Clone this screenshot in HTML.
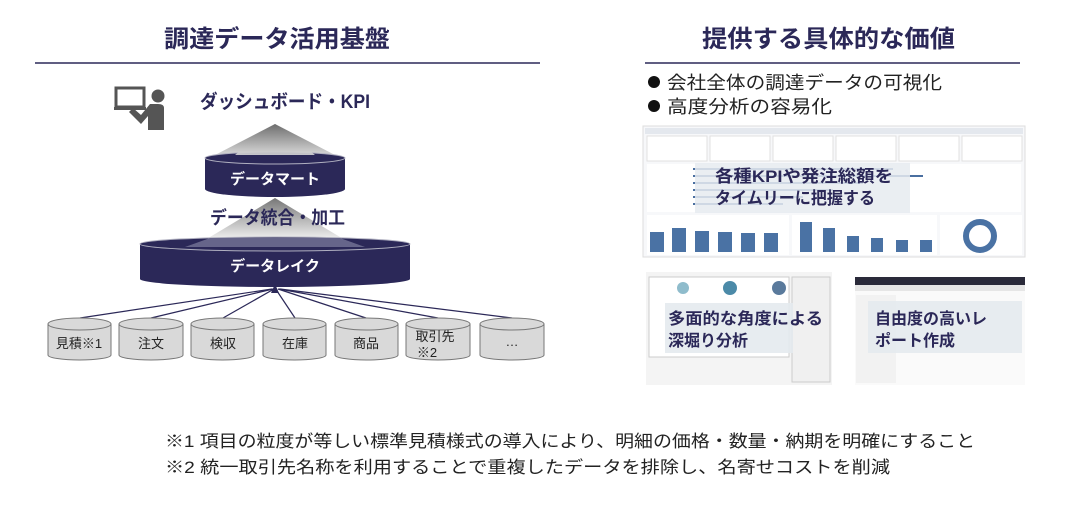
<!DOCTYPE html>
<html><head><meta charset="utf-8"><style>
body{margin:0;background:#fff;}
svg text{font-family:"Liberation Sans","Noto Sans CJK JP",sans-serif;}
</style></head><body>
<svg width="1075" height="527" viewBox="0 0 1075 527" xmlns="http://www.w3.org/2000/svg">
<defs>
<linearGradient id="tri" x1="0" y1="0" x2="0" y2="1"><stop offset="0" stop-color="#6e6e6e"/><stop offset="1" stop-color="#d8d8d8"/></linearGradient>
<linearGradient id="tri2" x1="0" y1="0" x2="0" y2="1"><stop offset="0" stop-color="#777"/><stop offset="1" stop-color="#f2f2f2"/></linearGradient>
</defs>
<text x="164" y="47" font-size="24" font-weight="bold" fill="#2b2858" textLength="226" lengthAdjust="spacingAndGlyphs">調達データ活用基盤</text>
<line x1="35" y1="63" x2="540" y2="63" stroke="#2b2858" stroke-width="1.5"/>
<text x="702" y="47" font-size="24" font-weight="bold" fill="#2b2858" textLength="253" lengthAdjust="spacingAndGlyphs">提供する具体的な価値</text>
<line x1="645" y1="63" x2="1020" y2="63" stroke="#2b2858" stroke-width="1.5"/>

<!-- icon -->
<rect x="116" y="88" width="28" height="19" fill="none" stroke="#555" stroke-width="3"/>
<rect x="114" y="107" width="32" height="3" fill="#555"/>
<circle cx="158" cy="96" r="6.5" fill="#555"/>
<path d="M129 112 L141 124 L148 116 L148 130 L164 130 L164 108 Q164 104 158 104 L150 104 L141 115 L133 108 Z" fill="#555"/>
<text x="200" y="108" font-size="19" font-weight="bold" fill="#2b2858" textLength="170" lengthAdjust="spacingAndGlyphs">ダッシュボード・KPI</text>

<polygon points="275,124 215,155 335,155" fill="url(#tri)"/>
<path d="M205 158 L205 189 A70 8 0 0 0 345 189 L345 158 Z" fill="#2b2858"/>
<ellipse cx="275" cy="158" rx="70" ry="6" fill="#2b2858" stroke="#b0b0c0" stroke-width="1"/>
<polygon points="275,124 235,155 315,155" fill="url(#tri)" opacity="0.9"/>
<text x="275" y="184" font-size="15" font-weight="bold" fill="#fff" text-anchor="middle">データマート</text>

<polygon points="275,198 205,240 345,240" fill="url(#tri2)"/>
<text x="210" y="224" font-size="18" font-weight="bold" fill="#2b2858" textLength="135" lengthAdjust="spacingAndGlyphs">データ統合・加工</text>
<path d="M140 244 L140 279 A135 8 0 0 0 410 279 L410 244 Z" fill="#2b2858"/>
<ellipse cx="275" cy="244" rx="135" ry="7" fill="#2b2858" stroke="#b0b0c0" stroke-width="1"/>
<polygon points="185,247 365,247 340,238 210,238" fill="#66658a"/>
<text x="275" y="271" font-size="15" font-weight="bold" fill="#fff" text-anchor="middle">データレイク</text>

<g stroke="#2b2858" stroke-width="1.2" fill="none">
<line x1="80" y1="318" x2="272" y2="289"/>
<line x1="151" y1="318" x2="273" y2="289"/>
<line x1="223" y1="318" x2="274" y2="289"/>
<line x1="295" y1="318" x2="277" y2="291"/>
<line x1="366" y1="318" x2="278" y2="289"/>
<line x1="438" y1="318" x2="279" y2="289"/>
<line x1="512" y1="318" x2="280" y2="289"/>
</g>
<polygon points="275,284 271,293 279,293" fill="#2b2858"/>

<g stroke="#777" stroke-width="1" fill="#d9d9d9">
<path d="M48 324 V355 A31.5 5 0 0 0 111 355 V324"/><ellipse cx="79.5" cy="324" rx="31.5" ry="6"/>
<path d="M119 324 V355 A32 5 0 0 0 183 355 V324"/><ellipse cx="151" cy="324" rx="32" ry="6"/>
<path d="M191 324 V355 A31.5 5 0 0 0 254 355 V324"/><ellipse cx="222.5" cy="324" rx="31.5" ry="6"/>
<path d="M263 324 V355 A31.5 5 0 0 0 326 355 V324"/><ellipse cx="294.5" cy="324" rx="31.5" ry="6"/>
<path d="M335 324 V355 A31.5 5 0 0 0 398 355 V324"/><ellipse cx="366.5" cy="324" rx="31.5" ry="6"/>
<path d="M406 324 V355 A32 5 0 0 0 470 355 V324"/><ellipse cx="438" cy="324" rx="32" ry="6"/>
<path d="M480 324 V355 A32 5 0 0 0 544 355 V324"/><ellipse cx="512" cy="324" rx="32" ry="6"/>
</g>
<g font-size="13" fill="#222" text-anchor="middle">
<text x="79" y="348">見積※1</text>
<text x="151" y="348">注文</text>
<text x="223" y="348">検収</text>
<text x="295" y="348">在庫</text>
<text x="366" y="348">商品</text>
<text x="435" y="341">取引先</text>
<text x="427" y="357">※2</text>
<text x="512" y="346">…</text>
</g>

<circle cx="654" cy="82" r="6" fill="#111"/>
<circle cx="654" cy="106" r="6" fill="#111"/>
<text x="667" y="89" font-size="18" fill="#222" textLength="275" lengthAdjust="spacingAndGlyphs">会社全体の調達データの可視化</text>
<text x="667" y="113" font-size="18" fill="#222" textLength="165" lengthAdjust="spacingAndGlyphs">高度分析の容易化</text>

<rect x="643" y="126" width="382" height="131" fill="#f7f8fa" stroke="#ddd"/>
<rect x="645" y="128" width="378" height="6" fill="#e4e8ee"/>
<g fill="#fff" stroke="#e0e0e0"><rect x="647" y="136" width="60" height="25"/><rect x="710" y="136" width="60" height="25"/><rect x="773" y="136" width="60" height="25"/><rect x="836" y="136" width="60" height="25"/><rect x="899" y="136" width="60" height="25"/><rect x="962" y="136" width="60" height="25"/></g>
<rect x="647" y="164" width="374" height="48" fill="#fff"/>
<g fill="#4a6fa0"><rect x="693" y="168" width="200" height="2"/><rect x="693" y="175" width="230" height="2"/><rect x="693" y="182" width="170" height="2"/><rect x="693" y="189" width="140" height="2"/><rect x="693" y="196" width="110" height="2"/><rect x="693" y="203" width="90" height="2"/></g>
<rect x="695" y="163" width="215" height="50" fill="#e6ebf0" opacity="0.85"/>
<text x="715" y="182" font-size="17" font-weight="bold" fill="#2b2858" textLength="178" lengthAdjust="spacingAndGlyphs">各種KPIや発注総額を</text>
<text x="715" y="204" font-size="17" font-weight="bold" fill="#2b2858" textLength="160" lengthAdjust="spacingAndGlyphs">タイムリーに把握する</text>
<rect x="647" y="215" width="142" height="40" fill="#fff"/><rect x="792" y="215" width="145" height="40" fill="#fff"/><rect x="940" y="215" width="82" height="40" fill="#fff"/>
<g fill="#4a72a4"><rect x="650" y="232" width="14" height="20"/><rect x="672" y="228" width="14" height="24"/><rect x="695" y="231" width="14" height="21"/><rect x="718" y="232" width="14" height="20"/><rect x="741" y="233" width="14" height="19"/><rect x="764" y="233" width="14" height="19"/>
<rect x="800" y="222" width="12" height="30"/><rect x="823" y="228" width="12" height="24"/><rect x="847" y="236" width="12" height="16"/><rect x="871" y="238" width="12" height="14"/><rect x="896" y="240" width="12" height="12"/><rect x="920" y="240" width="12" height="12"/></g>
<circle cx="980" cy="236" r="14" fill="none" stroke="#4a72a4" stroke-width="6"/>

<rect x="646" y="272" width="186" height="113" fill="#f4f4f4"/>
<rect x="649" y="277" width="140" height="80" fill="#fff" stroke="#ccc"/>
<circle cx="683" cy="288" r="6" fill="#8fbccc"/><circle cx="730" cy="288" r="7" fill="#4b8aa8"/><circle cx="779" cy="288" r="7" fill="#5a7a9c"/>
<rect x="792" y="277" width="38" height="105" fill="#f0f0f0" stroke="#ccc"/>
<rect x="665" y="303" width="128" height="50" fill="#e4eaee" opacity="0.9"/>
<text x="668" y="324" font-size="16" font-weight="bold" fill="#2b2858" textLength="155" lengthAdjust="spacingAndGlyphs">多面的な角度による</text>
<text x="668" y="346" font-size="16" font-weight="bold" fill="#2b2858">深堀り分析</text>

<rect x="855" y="277" width="170" height="108" fill="#fafafa"/>
<rect x="855" y="277" width="170" height="8" fill="#2a2a3a"/>
<rect x="855" y="285" width="170" height="6" fill="#e6e6e6"/>
<rect x="856" y="295" width="40" height="88" fill="#f2f2f2"/>
<rect x="868" y="301" width="154" height="52" fill="#e4eaee" opacity="0.9"/>
<text x="875" y="324" font-size="16" font-weight="bold" fill="#2b2858">自由度の高いレ</text>
<text x="875" y="346" font-size="16" font-weight="bold" fill="#2b2858">ポート作成</text>

<text x="165" y="447" font-size="17" fill="#222" textLength="810" lengthAdjust="spacingAndGlyphs">※1  項目の粒度が等しい標準見積様式の導入により、明細の価格・数量・納期を明確にすること</text>
<text x="165" y="473" font-size="17" fill="#222" textLength="725" lengthAdjust="spacingAndGlyphs">※2  統一取引先名称を利用することで重複したデータを排除し、名寄せコストを削減</text>
</svg>
</body></html>
